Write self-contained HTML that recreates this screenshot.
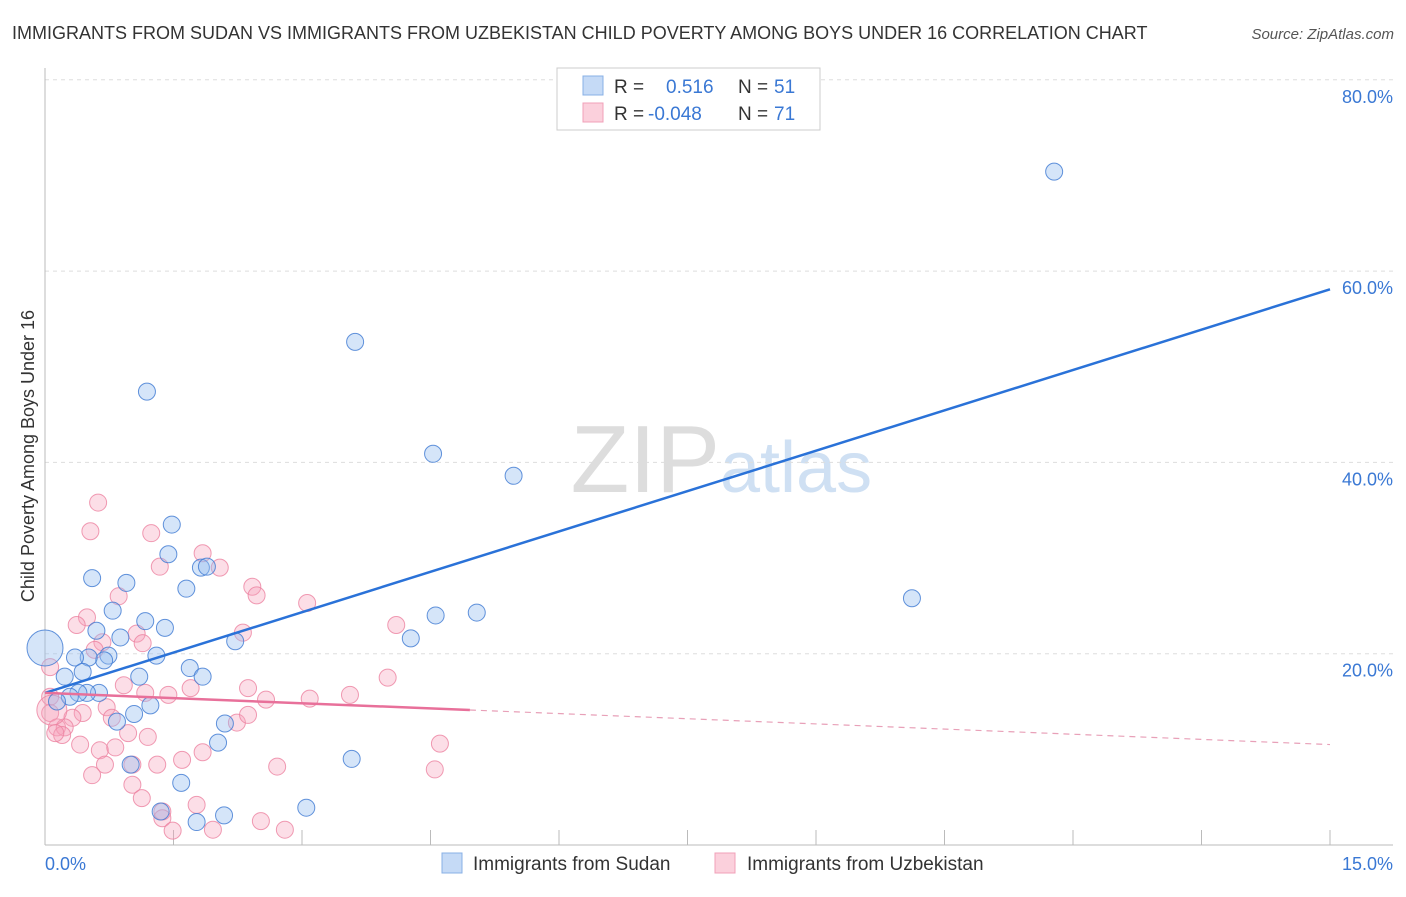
<!DOCTYPE html>
<html><head><meta charset="utf-8"><style>
body{margin:0;background:#fff;font-family:"Liberation Sans",sans-serif;}
svg text{font-family:"Liberation Sans",sans-serif;}
</style></head><body>
<svg width="1406" height="892" xmlns="http://www.w3.org/2000/svg">
<text x="12" y="39" font-size="18" fill="#333">IMMIGRANTS FROM SUDAN VS IMMIGRANTS FROM UZBEKISTAN CHILD POVERTY AMONG BOYS UNDER 16 CORRELATION CHART</text>
<text x="1394" y="39" font-size="15" fill="#555" font-style="italic" text-anchor="end">Source: ZipAtlas.com</text>
<text x="720" y="492" font-size="96" fill="#ddd" text-anchor="end" font-family="Liberation Serif">ZIP</text>
<text x="720" y="492" font-size="72" fill="#cfe0f3">atlas</text>
<g id="grid"></g>
<g id="axes"></g>
<g id="pts"></g>
<g id="lines"></g>
<text transform="translate(34,456) rotate(-90)" font-size="18" fill="#333" text-anchor="middle">Child Poverty Among Boys Under 16</text>
<text x="45" y="870" font-size="18" fill="#3a78d4">0.0%</text>
<text x="1393" y="870" font-size="18" fill="#3a78d4" text-anchor="end">15.0%</text>
<g>
<rect x="557" y="68" width="263" height="62" fill="#fff" stroke="#ccc"/>
<rect x="583" y="76" width="20" height="19" fill="#c5daf6" stroke="#88b0e6"/>
<rect x="583" y="103" width="20" height="19" fill="#fbd0dc" stroke="#f0a0b8"/>
<text x="614" y="93" font-size="19" fill="#333">R = </text><text x="666" y="93" font-size="19" fill="#3a78d4">0.516</text>
<text x="738" y="93" font-size="19" fill="#333">N = </text><text x="774" y="93" font-size="19" fill="#3a78d4">51</text>
<text x="614" y="120" font-size="19" fill="#333">R = </text><text x="648" y="120" font-size="19" fill="#3a78d4">-0.048</text>
<text x="738" y="120" font-size="19" fill="#333">N = </text><text x="774" y="120" font-size="19" fill="#3a78d4">71</text>
</g>
<g><rect x="442" y="853" width="20" height="20" fill="#c5daf6" stroke="#88b0e6"/><text x="473" y="870" font-size="19" fill="#333">Immigrants from Sudan</text></g>
<g><rect x="715" y="853" width="20" height="20" fill="#fbd0dc" stroke="#f0a0b8"/><text x="747" y="870" font-size="19" fill="#333">Immigrants from Uzbekistan</text></g>
</svg>
<script>
const yTicks=[20,40,60,80];
const sudanX=[11.78,3.62,1.19,4.53,5.47,10.12,1.48,1.44,0.55,0.95,1.65,1.82,1.89,0.79,1.17,1.40,0.60,0.88,2.22,4.27,4.56,5.04,0.74,0.69,1.30,0.51,0.35,0.44,1.69,1.84,1.10,0.23,0.63,0.49,0.39,0.29,0.14,1.23,1.04,0.84,2.10,2.02,1.00,3.58,1.59,1.35,1.77,2.09,3.05,0.0];
const sudanY=[70.4,52.6,47.4,40.9,38.6,25.8,33.5,30.4,27.9,27.4,26.8,29.0,29.1,24.5,23.4,22.7,22.4,21.7,21.3,21.6,24.0,24.3,19.8,19.3,19.8,19.6,19.6,18.1,18.5,17.6,17.6,17.6,15.9,15.9,15.9,15.5,15.0,14.6,13.7,12.9,12.7,10.7,8.4,9.0,6.5,3.5,2.4,3.1,3.9,20.6];
const uzX=[0.62,0.53,1.24,1.84,1.34,2.04,2.42,2.47,3.06,0.86,0.49,0.37,0.67,1.07,1.14,2.31,0.58,0.92,1.17,1.44,1.70,2.37,2.58,3.09,0.06,0.06,0.06,0.44,0.32,0.72,0.78,0.14,0.23,0.20,0.12,0.97,1.20,2.24,2.37,0.41,0.64,0.82,0.70,0.55,1.02,1.31,1.60,1.84,2.71,1.02,1.13,1.37,1.37,1.49,1.77,1.96,2.52,2.80,4.10,4.00,3.56,4.61,4.55,0.08];
const uzY=[35.8,32.8,32.6,30.5,29.1,29.0,27.0,26.1,25.3,26.0,23.8,23.0,21.2,22.1,21.1,22.2,20.4,16.7,15.9,15.7,16.4,16.4,15.2,15.3,18.6,15.5,13.8,13.8,13.3,14.4,13.3,12.3,12.3,11.5,11.7,11.7,11.3,12.8,13.6,10.5,9.9,10.2,8.4,7.3,8.4,8.4,8.9,9.7,8.2,6.3,4.9,3.5,2.8,1.5,4.2,1.6,2.5,1.6,23.0,17.5,15.7,10.6,7.9,14.1];
const sudanLine=[15.9,58.1];
const uzLine=[15.9,10.5];
const uzSolidEnd=4.96;
const X=v=>45+v/15*1285, Y=v=>845-v/20*191.3;
const NS="http://www.w3.org/2000/svg";
function mk(tag,parent,attrs){const e=document.createElementNS(NS,tag);for(const k in attrs)e.setAttribute(k,attrs[k]);document.getElementById(parent).appendChild(e);return e;}
yTicks.forEach(t=>{
 const l=mk('line','grid',{x1:45,x2:1393,y1:Y(t),y2:Y(t),stroke:'#ddd','stroke-dasharray':'4,4'});
 
 
 const tx=mk('text','grid',{x:1393,y:Y(t)+23,'font-size':18,fill:'#3a78d4','text-anchor':'end'});
 tx.textContent=t.toFixed(1)+'%';
 
 
});
const ax=mk('line','axes',{x1:45,x2:45,y1:68,y2:845,stroke:'#bbb'});


const bx=mk('line','axes',{x1:45,x2:1393,y1:845,y2:845,stroke:'#bbb'});


for(let k=1;k<=10;k++){const t=mk('line','axes',{x1:X(k*1.5),x2:X(k*1.5),y1:830,y2:845,stroke:'#bbb'});
 
 }
uzX.forEach((v,i)=>{const big=i===uzX.length-1;
 const c=mk('circle','pts',{cx:X(v),cy:Y(uzY[i]),r:big?15:8.5,fill:'rgba(246,160,186,0.35)',stroke:'rgba(236,130,160,0.8)','stroke-width':1});
 
 });
sudanX.forEach((v,i)=>{const big=i===sudanX.length-1;
 const c=mk('circle','pts',{cx:X(v),cy:Y(sudanY[i]),r:big?18:8.5,fill:'rgba(150,190,240,0.4)',stroke:'rgba(60,120,210,0.8)','stroke-width':1});
 
 });
const bl=mk('line','lines',{x1:X(0),y1:Y(sudanLine[0]),x2:X(15),y2:Y(sudanLine[1]),stroke:'#2a72d8','stroke-width':2.5});


const ym=uzLine[0]+(uzLine[1]-uzLine[0])*uzSolidEnd/15;
const pl=mk('line','lines',{x1:X(0),y1:Y(uzLine[0]),x2:X(uzSolidEnd),y2:Y(ym),stroke:'#e8709a','stroke-width':2.5});


const pd=mk('line','lines',{x1:X(uzSolidEnd),y1:Y(ym),x2:X(15),y2:Y(uzLine[1]),stroke:'#e8a0b8','stroke-width':1.2,'stroke-dasharray':'6,5'});


</script>
</body></html>
